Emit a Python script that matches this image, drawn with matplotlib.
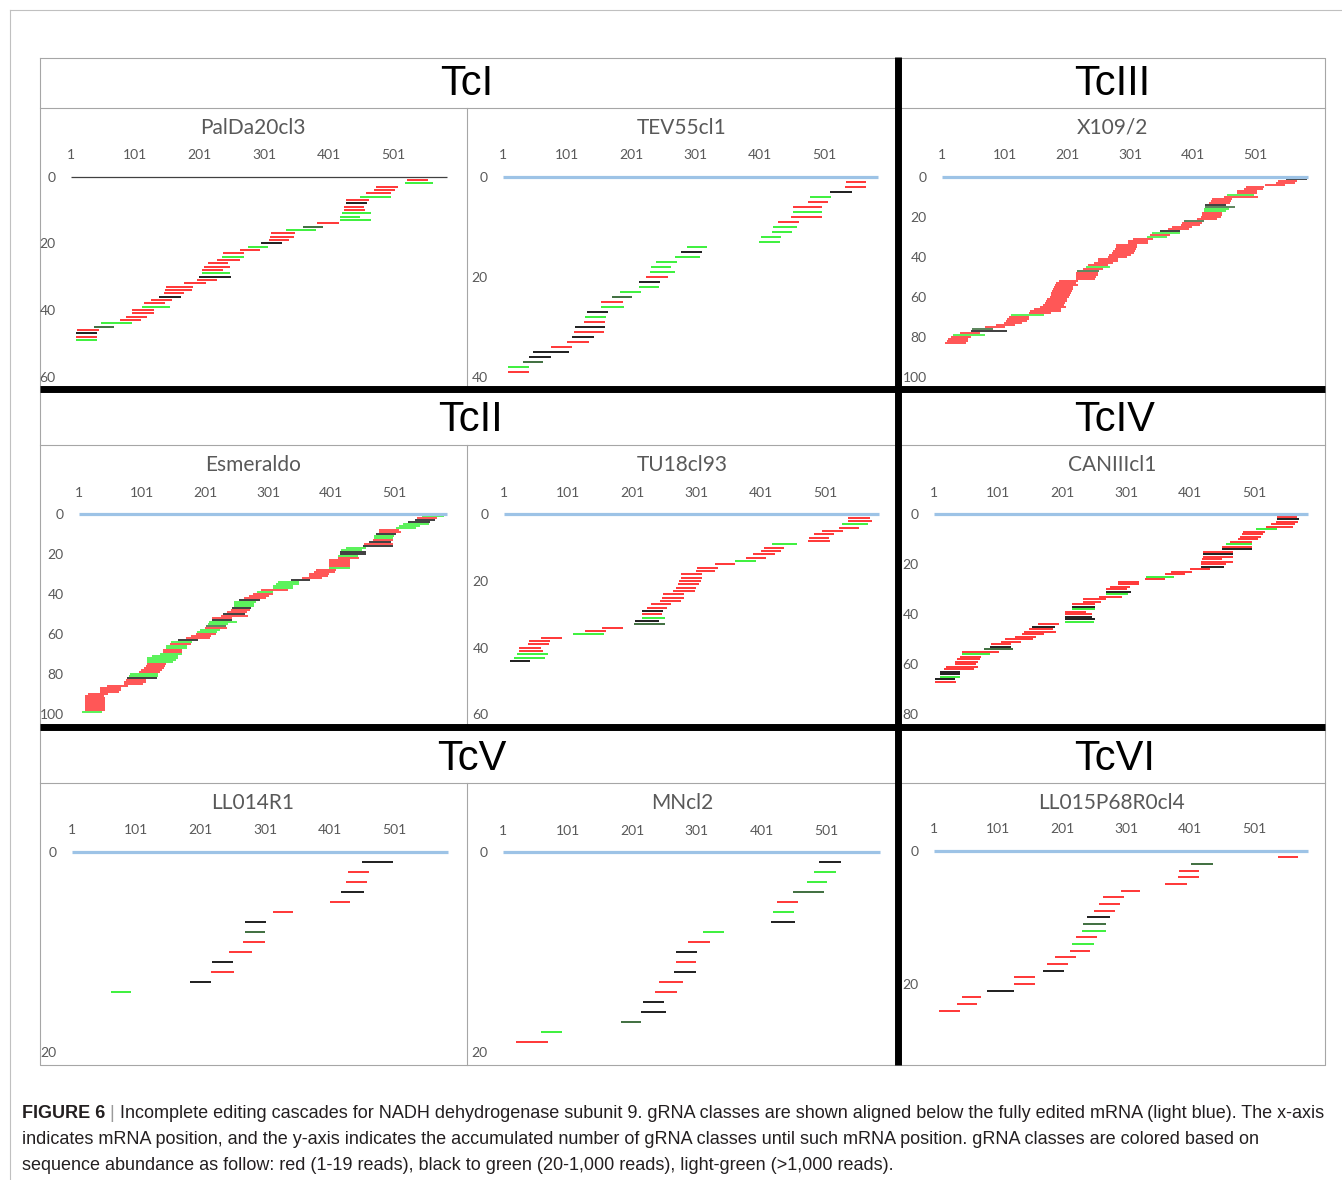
import numpy as np
import matplotlib.pyplot as plt

plt.rcParams['font.family'] = ['Lato', 'DejaVu Sans']

W, H = 1342, 1180

# gRNA classes per isolate: start / end mRNA position, abundance class
# r = 1-19 reads, k = black (20+), d = dark green, g = light green (>1000)
palda_start = [523, 519, 475, 471, 458, 449, 427, 427, 424, 424,
               421, 419, 419, 382, 361, 335, 312, 310, 308, 296,
               275, 264, 237, 236, 228, 213, 208, 204, 204, 199,
               196, 177, 149, 147, 146, 138, 125, 114, 111, 96,
               96, 86, 77, 48, 36, 11, 9, 9, 9]
palda_end = [555, 563, 508, 503, 498, 498, 463, 461, 455, 457,
             467, 450, 467, 417, 392, 381, 349, 347, 339, 329,
             307, 295, 269, 269, 263, 244, 248, 237, 248, 249,
             228, 210, 190, 189, 177, 172, 158, 147, 155, 130,
             130, 119, 109, 96, 68, 45, 42, 42, 42]
palda_cls = "rgrrrgrkrr" "gggrdgrrrk" "grrgrrrrgk" "rrrrrkrrgr" "rrrgdrkrg"

tev_start = [534, 533, 510, 479, 475, 452, 452, 449, 429, 421,
             419, 402, 399, 288, 278, 269, 239, 232, 229, 223,
             213, 212, 183, 170, 154, 154, 131, 129, 127, 113,
             111, 109, 101, 76, 47, 41, 32, 9, 9]
tev_end = [565, 566, 544, 512, 507, 498, 498, 498, 461, 458,
           451, 433, 432, 319, 310, 307, 271, 263, 269, 257,
           245, 244, 216, 202, 187, 189, 164, 161, 159, 159,
           158, 143, 135, 109, 103, 75, 64, 41, 41]
tev_cls = "rrkgrrgrrg" "ggggkggggr" "kggdrgkgrk" "rkrrkkdgr"

x109_start = [550, 537, 534, 516, 486, 483, 471, 471, 456, 450,
              431, 429, 426, 421, 420, 419, 418, 415, 415, 414,
              408, 387, 383, 382, 367, 362, 348, 335, 333, 327,
              305, 298, 298, 279, 279, 276, 274, 272, 267, 265,
              250, 250, 243, 233, 230, 225, 216, 215, 215, 215,
              215, 188, 183, 181, 179, 178, 176, 175, 174, 173,
              169, 167, 165, 162, 158, 147, 142, 140, 111, 108,
              105, 103, 100, 87, 70, 49, 48, 29, 18, 15,
              10, 9, 6]
x109_end = [583, 567, 563, 548, 514, 513, 503, 503, 498, 504,
            463, 462, 460, 453, 468, 458, 454, 447, 447, 446,
            440, 419, 415, 413, 400, 394, 380, 380, 365, 360,
            337, 330, 330, 312, 312, 311, 308, 307, 303, 296,
            282, 282, 274, 266, 269, 257, 251, 249, 249, 247,
            245, 218, 215, 218, 210, 210, 208, 206, 205, 203,
            201, 201, 197, 196, 198, 191, 190, 175, 163, 140,
            139, 137, 128, 118, 102, 82, 104, 61, 69, 47,
            42, 42, 40]
x109_cls = ("krrrrrrrgr" "rrrkdggrrr" "rdrrrrkgrg" "rrrrrrrrrr" "rrrrgrdrrr"
            "rrrrrrrrrr" "rrrrrrrrgr" "rrrrrdkrgr" "rrr")

esm_start = [545, 537, 533, 522, 515, 509, 503, 477, 476, 472,
             469, 468, 467, 461, 453, 452, 424, 416, 415, 415,
             412, 411, 398, 398, 398, 398, 398, 376, 373, 366,
             365, 354, 337, 317, 313, 309, 308, 290, 283, 277,
             271, 263, 255, 247, 246, 246, 243, 242, 235, 229,
             226, 212, 212, 207, 205, 202, 201, 193, 188, 187,
             179, 171, 158, 147, 146, 139, 139, 134, 134, 130,
             116, 109, 109, 109, 109, 107, 104, 100, 96, 82,
             80, 77, 75, 73, 73, 45, 35, 34, 34, 15,
             11, 10, 10, 10, 10, 10, 10, 10, 5]
esm_end = [579, 569, 566, 557, 556, 542, 535, 509, 512, 504,
           501, 499, 499, 495, 499, 499, 456, 449, 456, 456,
           444, 445, 431, 431, 431, 431, 431, 408, 407, 398,
           395, 387, 368, 349, 350, 341, 340, 332, 309, 309,
           302, 298, 288, 281, 279, 279, 273, 272, 268, 264,
           269, 244, 244, 251, 237, 234, 236, 224, 219, 218,
           211, 208, 189, 180, 178, 172, 172, 165, 165, 164,
           158, 158, 154, 150, 139, 138, 135, 133, 129, 127,
           127, 124, 107, 107, 103, 78, 67, 67, 65, 47,
           41, 42, 42, 42, 42, 42, 42, 42, 38]
esm_cls = ("grkkgggrrk" "ggrkrkggkk" "grrrrrgrrr" "rrkggggrgr" "rrkgggkrrk"
           "rrkggdrggr" "rrkgrggrrg" "ggggrrrrrg" "gkrrrrrrrr" "rrrrrrrrg")

tu18_start = [536, 536, 527, 522, 496, 483, 475, 474, 418, 405,
              401, 388, 378, 361, 329, 302, 299, 276, 276, 273,
              271, 268, 264, 249, 247, 243, 229, 223, 216, 215,
              215, 205, 203, 153, 127, 108, 59, 40, 39, 25,
              24, 21, 17, 10]
tu18_end = [571, 573, 567, 553, 528, 515, 506, 508, 457, 436,
            432, 423, 409, 393, 361, 334, 330, 309, 309, 307,
            304, 300, 298, 281, 281, 276, 261, 255, 248, 247,
            251, 242, 252, 186, 160, 156, 91, 73, 71, 59,
            62, 69, 65, 42]
tu18_cls = "rrgrrrrrgr" "rrrgrrrrrr" "rrrrrrrrkr" "gkdrrgrrrr" "rggk"

can_start = [536, 536, 534, 527, 519, 504, 483, 481, 479, 475,
             462, 456, 451, 450, 420, 420, 420, 419, 418, 418,
             417, 400, 371, 361, 332, 330, 288, 288, 276, 269,
             269, 269, 259, 233, 233, 216, 216, 216, 205, 205,
             205, 205, 205, 163, 154, 149, 142, 138, 127, 111,
             105, 90, 89, 79, 45, 45, 42, 37, 34, 33,
             20, 17, 10, 10, 10, 2, 2]
can_end = [567, 570, 569, 564, 561, 536, 518, 514, 511, 507,
           497, 497, 497, 497, 467, 467, 467, 450, 467, 457,
           453, 432, 404, 392, 376, 361, 321, 321, 307, 302,
           308, 304, 294, 269, 262, 252, 252, 252, 238, 248,
           248, 252, 250, 196, 190, 187, 191, 172, 160, 155,
           137, 121, 121, 124, 102, 88, 74, 72, 70, 66,
           70, 64, 42, 42, 41, 33, 36]
can_cls = ("rkrrrgrrrr" "rgrkrkrrrr" "krrrgrrrrr" "kgrrrrkgrr" "kkgrkrrrrr"
           "rrkdrgrrrr" "rrkkgkr")

ll014_start = [451, 430, 426, 418, 401, 313, 269, 269, 266, 244, 219, 216, 184, 61]
ll014_end = [499, 462, 458, 454, 433, 344, 302, 301, 301, 281, 251, 253, 217, 93]
ll014_cls = "krrkrrkdrrkrkg"

mn_start = [490, 482, 471, 450, 425, 419, 416, 311, 288, 268,
            268, 266, 242, 237, 217, 215, 183, 60, 21]
mn_end = [524, 517, 503, 498, 458, 451, 453, 343, 321, 301,
          300, 299, 280, 271, 250, 253, 215, 93, 70]
mn_cls = "kggdrgkgrkrkrrkkdgr"

ll015_start = [537, 402, 383, 382, 361, 292, 265, 258, 251, 240,
               233, 232, 222, 216, 213, 190, 178, 171, 126, 126,
               83, 44, 37, 9]
ll015_end = [569, 437, 415, 414, 396, 323, 298, 291, 283, 276,
             269, 269, 255, 251, 245, 223, 210, 204, 158, 158,
             126, 75, 68, 41]
ll015_cls = "rdrrrrrrrkdgrgrrrkrrkrrr"

mrna_len = 585
xticks = [1, 101, 201, 301, 401, 501]
groups = ['TcI', 'TcIII', 'TcII', 'TcIV', 'TcV', 'TcVI']

cls_color = {'r': '#ff3636', 'k': '#1e1e1e', 'd': '#3f6f3f', 'g': '#3cf03c'}

# name, data, y max, left px, top px, width px
panels = [
    ('PalDa20cl3', palda_start, palda_end, palda_cls, 60, 71, 176.5, 377),
    ('TEV55cl1', tev_start, tev_end, tev_cls, 40, 503, 176.5, 376),
    ('X109/2', x109_start, x109_end, x109_cls, 100, 942, 176.5, 367),
    ('Esmeraldo', esm_start, esm_end, esm_cls, 100, 79, 514.3, 369),
    ('TU18cl93', tu18_start, tu18_end, tu18_cls, 60, 504, 514.3, 376),
    ('CANIIIcl1', can_start, can_end, can_cls, 80, 934, 514.3, 375),
    ('LL014R1', ll014_start, ll014_end, ll014_cls, 20, 72, 851.7, 377),
    ('MNcl2', mn_start, mn_end, mn_cls, 20, 503, 852.3, 378),
    ('LL015P68R0cl4', ll015_start, ll015_end, ll015_cls, 30, 934, 850.7, 375),
]
cell_cx = [253, 682, 1112]
cell_title_y = [128, 465, 803]

fig = plt.figure(figsize=(W / 100, H / 100), dpi=100)

# background frame in pixel coordinates
bg = fig.add_axes([0, 0, 1, 1])
bg.set_xlim(0, W)
bg.set_ylim(H, 0)
bg.axis('off')
bg.plot([10, W], [10, 10], color='#c0c0c0', lw=0.8)
bg.plot([10, 10], [10, H], color='#c0c0c0', lw=0.8)
bg.plot([40, 1325, 1325, 40, 40], [57.5, 57.5, 1065, 1065, 57.5], color='#a6a6a6', lw=0.8)
for yy in [107.5, 445, 782.5]:
    bg.plot([40, 1325], [yy, yy], color='#a6a6a6', lw=0.8)
for y0, y1 in [(107.5, 389), (445, 727), (782.5, 1065)]:
    bg.plot([466.5, 466.5], [y0, y1], color='#a6a6a6', lw=0.8)
bg.plot([898, 898], [57, 1065], color='black', lw=5, solid_capstyle='butt')
for yy in [389, 727]:
    bg.plot([40, 1325], [yy, yy], color='black', lw=5, solid_capstyle='butt')

head_pos = [(467, 84), (1112, 84), (470, 420), (1115, 420), (472, 759), (1115, 759)]
for g, (hx, hy) in zip(groups, head_pos):
    bg.text(hx, hy, g, ha='center', va='center', fontsize=30,
            family='Liberation Sans', color='black')

for i, (name, st, en, cl, ymax, left, top, width) in enumerate(panels):
    ax = fig.add_axes([left / W, 1 - (top + 200) / H, width / W, 200 / H])
    ax.patch.set_alpha(0)
    rows = np.arange(1, len(st) + 1)
    seg_lw = min(1.4, 0.6 * 200 / ymax)
    ax.hlines(rows, st, en, colors=[cls_color[c] for c in cl], lw=seg_lw)
    if i == 0:
        ax.hlines(0, 1, mrna_len, colors='#404040', lw=0.9, clip_on=False)
    else:
        ax.hlines(0, 1, mrna_len, colors='#9dc3e6', lw=2.3, clip_on=False)
    ax.set_xlim(1, mrna_len + 1)
    ax.set_ylim(ymax, 0)
    ax.set_xticks(xticks)
    ax.set_yticks(np.arange(0, ymax + 1, 20))
    ax.xaxis.tick_top()
    ax.tick_params(axis='x', length=0, pad=11, labelsize=10, labelcolor='#595959')
    ax.tick_params(axis='y', length=0, pad=11, labelsize=10, labelcolor='#595959')
    for s in ax.spines.values():
        s.set_visible(False)
    bg.text(cell_cx[i % 3], cell_title_y[i // 3], name, ha='center', va='center',
            fontsize=15, color='#595959')

# caption
cap_kw = dict(family='Liberation Sans', fontsize=13, color='#231f20')
t1 = bg.text(22, 1114, 'FIGURE 6', weight='bold', va='center', **cap_kw)
t2 = bg.annotate(' | ', xy=(1, 0), xycoords=t1, va='bottom', ha='left',
                 family='Liberation Sans', fontsize=13, color='#9a9a9a')
bg.annotate('Incomplete editing cascades for NADH dehydrogenase subunit 9. gRNA classes are shown '
            'aligned below the fully edited mRNA (light blue). The x-axis',
            xy=(1, 0), xycoords=t2, va='bottom', ha='left', **cap_kw)
bg.text(22, 1140, 'indicates mRNA position, and the y-axis indicates the accumulated number of gRNA '
        'classes until such mRNA position. gRNA classes are colored based on',
        va='center', **cap_kw)
bg.text(22, 1165, 'sequence abundance as follow: red (1-19 reads), black to green (20-1,000 reads), '
        'light-green (>1,000 reads).', va='center', **cap_kw)

fig.savefig('out.png', dpi=100)
